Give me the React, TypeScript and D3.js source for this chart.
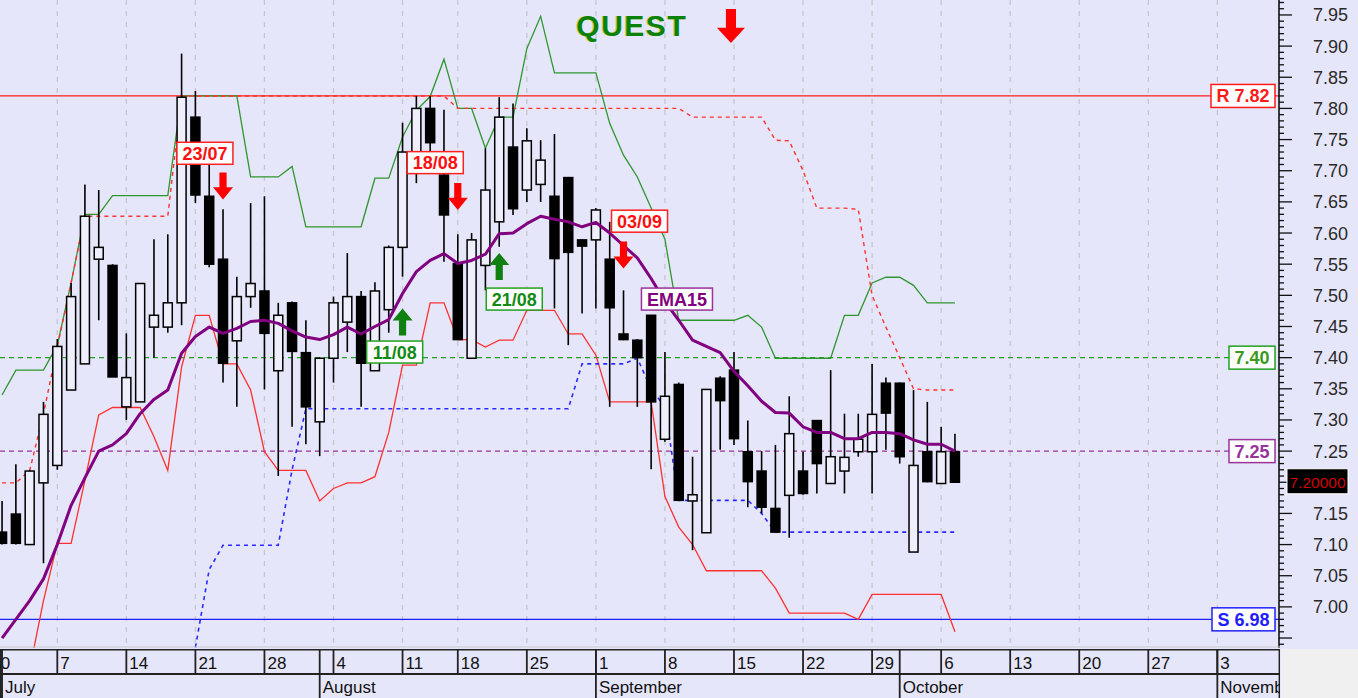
import React from 'react';
import * as d3 from 'd3';

const W = 1358;
const H = 698;
const PLOT_R = 1279;
const PLOT_B = 648;

// ---- OHLC (trading days from 2014-07-01 to 2014-10-07) ----
const opens = [7.12, 7.149, 7.10, 7.199, 7.227, 7.348, 7.39, 7.558, 7.548, 7.321,
  7.329, 7.449, 7.449, 7.488, 7.786, 7.659, 7.558, 7.427, 7.498, 7.507,
  7.379, 7.488, 7.408, 7.297, 7.399, 7.457, 7.498, 7.379, 7.477, 7.577,
  7.70, 7.80, 7.693, 7.551, 7.399, 7.548, 7.618, 7.738, 7.669, 7.678,
  7.659, 7.689, 7.589, 7.589, 7.558, 7.438, 7.428, 7.468, 7.269, 7.357,
  7.17, 7.119, 7.367, 7.38, 7.249, 7.218, 7.158, 7.179, 7.218, 7.299,
  7.198, 7.218, 7.249, 7.249, 7.359, 7.359, 7.088, 7.249, 7.198, 7.249];
const highs = [7.17, 7.229, 7.22, 7.329, 7.43, 7.52, 7.678, 7.669, 7.55, 7.439,
  7.519, 7.59, 7.598, 7.888, 7.828, 7.712, 7.638, 7.53, 7.648, 7.659,
  7.488, 7.49, 7.46, 7.40, 7.498, 7.568, 7.507, 7.521, 7.58, 7.777,
  7.82, 7.82, 7.798, 7.598, 7.60, 7.736, 7.818, 7.808, 7.768, 7.749,
  7.759, 7.69, 7.59, 7.64, 7.618, 7.508, 7.43, 7.468, 7.409, 7.36,
  7.241, 7.349, 7.37, 7.409, 7.299, 7.25, 7.26, 7.338, 7.249, 7.30,
  7.38, 7.31, 7.31, 7.39, 7.368, 7.36, 7.348, 7.329, 7.289, 7.278];
const lows = [7.10, 7.10, 7.10, 7.07, 7.22, 7.348, 7.39, 7.46, 7.369, 7.30,
  7.329, 7.40, 7.44, 7.452, 7.648, 7.545, 7.36, 7.321, 7.48, 7.349,
  7.21, 7.289, 7.261, 7.242, 7.36, 7.409, 7.321, 7.379, 7.44, 7.53,
  7.68, 7.70, 7.554, 7.429, 7.399, 7.508, 7.578, 7.629, 7.65, 7.65,
  7.479, 7.42, 7.471, 7.479, 7.321, 7.428, 7.321, 7.221, 7.265, 7.17,
  7.091, 7.119, 7.252, 7.26, 7.16, 7.15, 7.12, 7.111, 7.18, 7.182,
  7.198, 7.182, 7.241, 7.182, 7.252, 7.23, 7.088, 7.20, 7.198, 7.20];
const closes = [7.102, 7.102, 7.218, 7.309, 7.418, 7.498, 7.627, 7.577, 7.369, 7.368,
  7.519, 7.468, 7.488, 7.818, 7.661, 7.55, 7.391, 7.498, 7.519, 7.439,
  7.468, 7.41, 7.321, 7.399, 7.488, 7.498, 7.391, 7.507, 7.577, 7.73,
  7.80, 7.745, 7.629, 7.429, 7.589, 7.669, 7.786, 7.639, 7.748, 7.717,
  7.559, 7.569, 7.579, 7.637, 7.48, 7.429, 7.40, 7.329, 7.338, 7.171,
  7.18, 7.349, 7.331, 7.27, 7.201, 7.16, 7.12, 7.278, 7.182, 7.23,
  7.241, 7.24, 7.269, 7.309, 7.311, 7.241, 7.227, 7.201, 7.249, 7.20];

// ---- indicators ----
const ema15 = [6.95, 6.98, 7.01, 7.045, 7.10, 7.163, 7.207, 7.25, 7.26, 7.278,
  7.31, 7.333, 7.348, 7.407, 7.434, 7.449, 7.439, 7.447, 7.458, 7.46,
  7.455, 7.443, 7.433, 7.429, 7.437, 7.449, 7.438, 7.45, 7.461, 7.503,
  7.538, 7.556, 7.567, 7.551, 7.556, 7.566, 7.599, 7.60, 7.615, 7.627,
  7.622, 7.618, 7.61, 7.617, 7.60, 7.58, 7.56, 7.527, 7.49, 7.46,
  7.428, 7.418, 7.408, 7.378, 7.355, 7.33, 7.312, 7.311, 7.289, 7.28,
  7.28, 7.27, 7.27, 7.28, 7.28, 7.278, 7.268, 7.261, 7.261, 7.25];
const channelHigh = [7.34, 7.38, 7.38, 7.38, 7.42, 7.52, 7.63, 7.63, 7.66, 7.66,
  7.66, 7.66, 7.66, 7.82, 7.82, 7.82, 7.82, 7.82, 7.69, 7.69,
  7.69, 7.707, 7.61, 7.61, 7.61, 7.61, 7.61, 7.688, 7.688, 7.754,
  7.797, 7.819, 7.879, 7.80, 7.80, 7.736, 7.786, 7.786, 7.896, 7.948,
  7.857, 7.857, 7.857, 7.857, 7.776, 7.725, 7.69, 7.64, 7.59, 7.46,
  7.46, 7.46, 7.46, 7.46, 7.468, 7.449, 7.399, 7.399, 7.399, 7.399,
  7.399, 7.468, 7.468, 7.52, 7.529, 7.529, 7.516, 7.488, 7.488, 7.488];
const channelLow = [null, null, 6.90, 7.01, 7.102, 7.102, 7.203, 7.308, 7.32, 7.32,
  7.32, 7.273, 7.219, 7.385, 7.468, 7.468, 7.39, 7.39, 7.348, 7.249,
  7.219, 7.219, 7.219, 7.17, 7.19, 7.199, 7.199, 7.209, 7.28, 7.388,
  7.388, 7.488, 7.488, 7.429, 7.429, 7.417, 7.428, 7.428, 7.476, 7.476,
  7.476, 7.438, 7.438, 7.404, 7.329, 7.329, 7.329, 7.329, 7.177, 7.128,
  7.10, 7.058, 7.058, 7.058, 7.058, 7.058, 7.03, 6.99, 6.99, 6.99,
  6.99, 6.99, 6.98, 7.02, 7.02, 7.02, 7.02, 7.02, 7.02, 6.96];
const stopHigh = [7.199, 7.199, 7.219, 7.31, 7.417, 7.52, 7.627, 7.627, 7.627, 7.627,
  7.627, 7.627, 7.627, 7.82, 7.82, 7.82, 7.82, 7.82, 7.82, 7.82,
  7.82, 7.82, 7.82, 7.82, 7.82, 7.82, 7.82, 7.82, 7.82, 7.82,
  7.82, 7.82, 7.82, 7.80, 7.80, 7.80, 7.80, 7.80, 7.80, 7.80,
  7.80, 7.80, 7.80, 7.80, 7.80, 7.80, 7.80, 7.80, 7.80, 7.80,
  7.786, 7.786, 7.786, 7.786, 7.786, 7.786, 7.749, 7.748, 7.70, 7.64,
  7.64, 7.64, 7.638, 7.50, 7.449, 7.40, 7.35, 7.348, 7.348, 7.348];
const stopLow = [null, null, null, null, null, null, null, null, null, null,
  null, null, null, null, 6.935, 7.06, 7.099, 7.099, 7.099, 7.099,
  7.099, 7.22, 7.318, 7.318, 7.318, 7.318, 7.318, 7.318, 7.318, 7.318,
  7.318, 7.318, 7.318, 7.318, 7.318, 7.318, 7.318, 7.318, 7.318, 7.318,
  7.318, 7.318, 7.39, 7.39, 7.39, 7.39, 7.399, 7.35, 7.321, 7.171,
  7.171, 7.171, 7.171, 7.171, 7.171, 7.15, 7.12, 7.12, 7.12, 7.12,
  7.12, 7.12, 7.12, 7.12, 7.12, 7.12, 7.12, 7.12, 7.12, 7.12];

// ---- horizontal levels ----
const levelValues = [7.82, 7.40, 7.25, 6.98];
const levelLabels = ['R 7.82', '7.40', '7.25', 'S 6.98'];
const levelColors = ['#ff1a1a', '#22a022', '#993399', '#2020ff'];
const levelTextColors = ['#ff1a1a', '#3c9a1c', '#993399', '#2020ff'];
const levelDashed = [false, true, true, false];

const lastPrice = 7.2;
const lastPriceLabel = '7.20000';

// ---- y axis labels (7.20 is covered by the last-price badge) ----
const yTickLabels = ['7.00', '7.05', '7.10', '7.15', '7.25', '7.30', '7.35', '7.40', '7.45',
  '7.50', '7.55', '7.60', '7.65', '7.70', '7.75', '7.80', '7.85', '7.90', '7.95'];
const monthNames = ['January', 'February', 'March', 'April', 'May', 'June', 'July', 'August',
  'September', 'October', 'November', 'December'];
const holidays = ['2014-08-15'];

// ---- signal annotations (index of candle, price of the arrow tip, label box centre) ----
const signalLabels = ['23/07', '18/08', '03/09', '11/08', '21/08'];
const signalIdx = [16, 33, 45, 29, 36];
const signalDir = ['down', 'down', 'down', 'up', 'up'];
const signalTip = [7.654, 7.637, 7.543, 7.479, 7.568];
const signalBoxIdx = [14.69, 31.37, 46.16, 28.43, 37.09];
const signalBoxPrice = [7.728, 7.713, 7.619, 7.409, 7.494];

const emaLabel = 'EMA15';
const emaLabelIdx = 48.87;
const emaLabelPrice = 7.494;
const titleText = 'QUEST';
const titleIdx = 45.6;
const titlePrice = 7.934;
const titleArrowIdx = 52.78;
const titleArrowTip = 7.905;

// ---- calendar ----
const calendar: Date[] = [];
for (let d = new Date(2014, 5, 30); d <= new Date(2014, 10, 7); d.setDate(d.getDate() + 1)) {
  const wd = d.getDay();
  if (wd === 0 || wd === 6) continue;
  const key = d3.timeFormat('%Y-%m-%d')(d);
  if (holidays.includes(key)) continue;
  calendar.push(new Date(d));
}

const xs = d3.scaleLinear().domain([0, 1]).range([-11.75, 2.06]);
const xc = (i: number) => xs(i + 1); // candle index -> x
const y = d3.scaleLinear().domain([6.934, 7.974]).range([PLOT_B, 0]);

const FONT = '"Liberation Sans", Arial, sans-serif';

const charW: Record<string, number> = { '/': 5, '.': 5, ' ': 5, R: 13, S: 12, E: 12, M: 15, A: 13 };
const boldWidth = (s: string) => s.split('').reduce((a, c) => a + (charW[c] ?? 10), 0);

function arrowPath(cx: number, tip: number, w: number, h: number, dir: string) {
  const sw = w * 0.36;
  const hh = h * 0.45;
  const s = dir === 'down' ? 1 : -1;
  const pts = [
    [cx - sw / 2, tip - s * h], [cx + sw / 2, tip - s * h], [cx + sw / 2, tip - s * hh],
    [cx + w / 2, tip - s * hh], [cx, tip], [cx - w / 2, tip - s * hh], [cx - sw / 2, tip - s * hh],
  ];
  return 'M' + pts.map(p => p.join(',')).join('L') + 'Z';
}

function LabelBox({ cx, cy, text, color, textColor }: any) {
  const w = boldWidth(text) + 11;
  const h = 22;
  return (
    <g>
      <rect x={cx - w / 2} y={cy - h / 2} width={w} height={h} fill="#ffffff" stroke={color} strokeWidth={1.5} />
      <text x={cx} y={cy + 6.5} textAnchor="middle" fontSize={18} fontWeight="bold" fill={textColor || color} fontFamily={FONT}>{text}</text>
    </g>
  );
}

export default function App() {
  const idxs = d3.range(opens.length);
  const mkLine = (arr: (number | null)[]) =>
    d3.line<number>().defined(i => arr[i] != null).x(i => xc(i)).y(i => y(arr[i] as number))(idxs) || '';

  const mondays = calendar.map((d, i) => ({ d, i })).filter(o => o.d.getDay() === 1);
  const monthStarts = calendar.map((d, i) => ({ d, i }))
    .filter(o => o.i > 0 && o.d.getMonth() !== calendar[o.i - 1].getMonth());

  const minorTicks = d3.range(694, 798).map(v => v / 100);
  const bw = 9;

  return (
    <svg width={W} height={H} style={{ position: 'absolute', left: 0, top: 0 }} fontFamily={FONT}>
      <defs>
        <clipPath id="plot"><rect x={0} y={0} width={PLOT_R} height={PLOT_B} /></clipPath>
        <clipPath id="axisclip"><rect x={0} y={649} width={1280} height={49} /></clipPath>
      </defs>
      <rect x={0} y={0} width={W} height={H} fill="#e6e6fa" />
      <rect x={1281} y={649} width={W - 1281} height={H - 649} fill="#f0f0f0" />

      {/* vertical grid */}
      <g>
        {mondays.map(o => (
          <line key={'g' + o.i} x1={xs(o.i)} x2={xs(o.i)} y1={0} y2={PLOT_B} stroke="#c6c6cc" strokeWidth={1.3} strokeDasharray="5,6" />
        ))}
      </g>

      <g clipPath="url(#plot)">
        {/* level lines */}
        {levelValues.map((v, k) => (
          <line key={'lv' + k} x1={0} x2={PLOT_R} y1={y(v)} y2={y(v)} stroke={levelColors[k]}
            strokeWidth={levelDashed[k] ? 1.4 : 1.3} strokeDasharray={levelDashed[k] ? '5,4' : undefined} />
        ))}
        {/* indicator lines */}
        <path d={mkLine(channelHigh)} fill="none" stroke="#2e962e" strokeWidth={1.3} />
        <path d={mkLine(channelLow)} fill="none" stroke="#ff3030" strokeWidth={1.3} />
        <path d={mkLine(stopHigh)} fill="none" stroke="#ff3030" strokeWidth={1.4} strokeDasharray="4,4" />
        <path d={mkLine(stopLow)} fill="none" stroke="#2a2aff" strokeWidth={1.6} strokeDasharray="4,4" />

        {/* candles */}
        {idxs.map(i => {
          const x = xc(i);
          const o = opens[i], c = closes[i], hi = highs[i], lo = lows[i];
          const top = y(Math.max(o, c));
          const bot = y(Math.min(o, c));
          const up = c >= o;
          return (
            <g key={'c' + i}>
              <line x1={x} x2={x} y1={y(hi)} y2={top} stroke="#000" strokeWidth={1.6} />
              <line x1={x} x2={x} y1={bot} y2={y(lo)} stroke="#000" strokeWidth={1.6} />
              <rect x={x - bw / 2} y={top} width={bw} height={Math.max(1.5, bot - top)}
                fill={up ? '#eeeefc' : '#000'} stroke="#000" strokeWidth={1.5} />
            </g>
          );
        })}

        {/* EMA */}
        <path d={mkLine(ema15)} fill="none" stroke="#800080" strokeWidth={3} strokeLinejoin="round" />
      </g>

      {/* signals */}
      {signalLabels.map((s, k) => {
        const down = signalDir[k] === 'down';
        const col = down ? '#ff0000' : '#108010';
        return (
          <g key={'s' + k}>
            <path d={arrowPath(xc(signalIdx[k]), y(signalTip[k]), 20, 27, signalDir[k])} fill={col} />
            <LabelBox cx={xc(signalBoxIdx[k])} cy={y(signalBoxPrice[k])} text={s}
              color={down ? '#ff2020' : '#22a022'} textColor={down ? '#ff1010' : '#138a13'} />
          </g>
        );
      })}
      <LabelBox cx={xc(emaLabelIdx)} cy={y(emaLabelPrice)} text={emaLabel} color="#993399" textColor="#800080" />

      {/* title */}
      <text x={xc(titleIdx) - 1} y={y(titlePrice) + 11} textAnchor="middle" fontSize={30} fontWeight="900"
        fill="#c8c84a" fontFamily={FONT} letterSpacing={1.5}>{titleText}</text>
      <text x={xc(titleIdx)} y={y(titlePrice) + 11} textAnchor="middle" fontSize={30} fontWeight="900"
        fill="#0a820a" fontFamily={FONT} letterSpacing={1.5}>{titleText}</text>
      <path d={arrowPath(xc(titleArrowIdx), y(titleArrowTip), 28, 34, 'down')} fill="#ff0000" />

      {/* right axis */}
      <line x1={PLOT_R} x2={PLOT_R} y1={0} y2={PLOT_B} stroke="#111" strokeWidth={1.6} />
      {minorTicks.map(v => {
        const major = Math.round(v * 100) % 5 === 0;
        return (
          <line key={'t' + v} x1={PLOT_R} x2={PLOT_R + (major ? 13 : 5)} y1={y(v)} y2={y(v)} stroke="#111" strokeWidth={1.3} />
        );
      })}
      {yTickLabels.map(t => (
        <text key={'yl' + t} x={1313} y={y(+t) + 6.5} fontSize={18} fill="#2a2a2a" fontFamily={FONT}>{t}</text>
      ))}

      {/* level labels */}
      {levelValues.map((v, k) => {
        const w = boldWidth(levelLabels[k]) + 11;
        return (
          <g key={'ll' + k}>
            <rect x={1275 - w} y={y(v) - 11.5} width={w} height={23} fill="#fff" stroke={levelColors[k]} strokeWidth={1.5} />
            <text x={1275 - w / 2} y={y(v) + 6.5} textAnchor="middle" fontSize={18} fontWeight="bold"
              fill={levelTextColors[k]} fontFamily={FONT}>{levelLabels[k]}</text>
          </g>
        );
      })}

      {/* last price badge */}
      <rect x={1287} y={y(lastPrice) - 13.5} width={61} height={25} fill="#000" stroke="#fff" strokeWidth={1} />
      <text x={1317.5} y={y(lastPrice) + 5.5} textAnchor="middle" fontSize={15.5} fill="#d00000" fontFamily={FONT}>{lastPriceLabel}</text>

      {/* bottom date axis */}
      <line x1={0} x2={1280} y1={647} y2={647} stroke="#c8c8d0" strokeWidth={1} />
      <g clipPath="url(#axisclip)">
        <rect x={0} y={649} width={1280} height={49} fill="#e6e6fa" />
        <line x1={0} x2={1280} y1={649.5} y2={649.5} stroke="#222" strokeWidth={1.8} />
        <line x1={0} x2={1280} y1={674} y2={674} stroke="#222" strokeWidth={1.8} />
        <line x1={0.8} x2={0.8} y1={649} y2={698} stroke="#222" strokeWidth={1.8} />
        <line x1={1279.5} x2={1279.5} y1={649} y2={698} stroke="#222" strokeWidth={1.8} />
        {mondays.map(o => (
          <g key={'m' + o.i}>
            <line x1={xs(o.i)} x2={xs(o.i)} y1={649} y2={674} stroke="#222" strokeWidth={1.8} />
            <text x={xs(o.i) + 3} y={669} fontSize={17} fill="#111" fontFamily={FONT}>{o.d.getDate()}</text>
          </g>
        ))}
        {monthStarts.map(o => (
          <g key={'mo' + o.i}>
            <line x1={xs(o.i)} x2={xs(o.i)} y1={649} y2={698} stroke="#222" strokeWidth={1.8} />
            <text x={xs(o.i) + 3} y={693} fontSize={17} fill="#111" fontFamily={FONT}>{monthNames[o.d.getMonth()]}</text>
          </g>
        ))}
      </g>
    </svg>
  );
}
